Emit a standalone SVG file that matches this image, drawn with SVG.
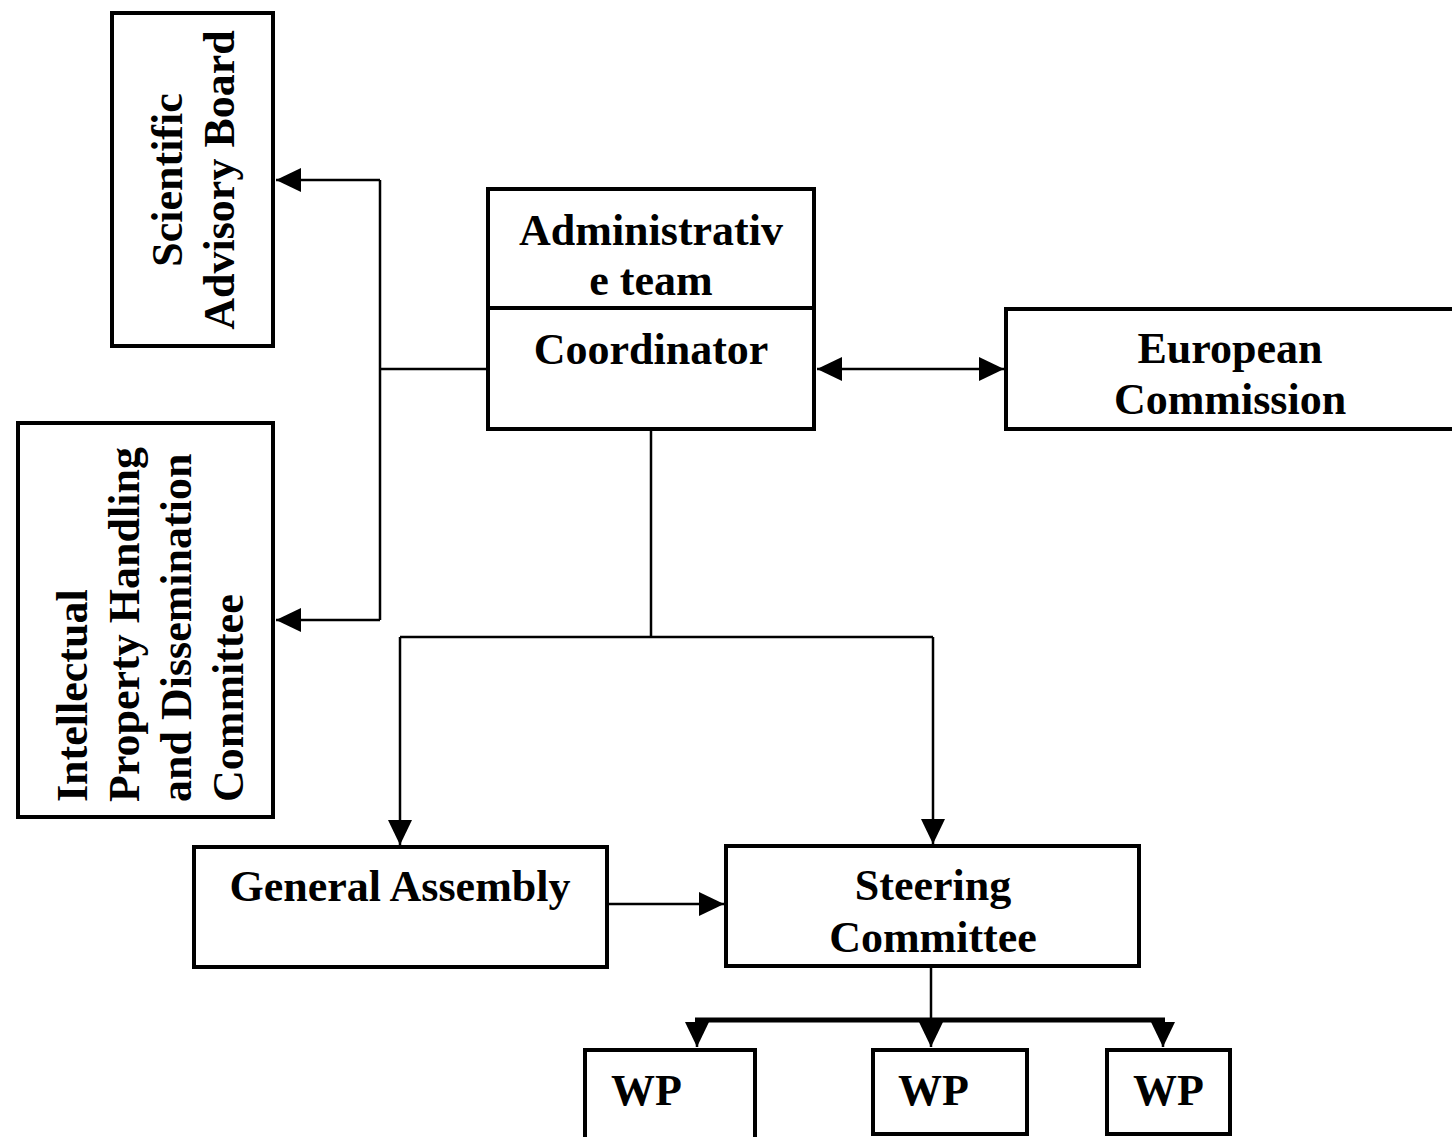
<svg xmlns="http://www.w3.org/2000/svg" width="1452" height="1137" viewBox="0 0 1452 1137">
<style>
.box{fill:#fff;stroke:#000;stroke-width:4}
.t{font-family:"Liberation Serif","Times New Roman",serif;font-weight:bold;font-size:44px;fill:#000}
.c{text-anchor:middle}
.ln{fill:none;stroke:#000;stroke-width:2.5}
.bus{fill:none;stroke:#000;stroke-width:5}
</style>
<defs>
<marker id="ah" markerUnits="userSpaceOnUse" markerWidth="26" markerHeight="26" refX="25" refY="12" orient="auto-start-reverse" viewBox="0 0 26 24">
<path d="M0,0 L25,12 L0,24 z" fill="#000"/>
</marker>
</defs>
<rect width="1452" height="1137" fill="#fff"/>
<g id="connectors">
<path class="ln" d="M486,369 H380"/>
<path class="ln" d="M380,180 V620"/>
<path class="ln" d="M380,180 H276" marker-end="url(#ah)"/>
<path class="ln" d="M380,620 H276" marker-end="url(#ah)"/>
<path class="ln" d="M817,369 H1004" marker-start="url(#ah)" marker-end="url(#ah)"/>
<path class="ln" d="M651,431 V637"/>
<path class="ln" d="M400,637 H933"/>
<path class="ln" d="M400,637 V845" marker-end="url(#ah)"/>
<path class="ln" d="M933,637 V844" marker-end="url(#ah)"/>
<path class="ln" d="M609,904 H724" marker-end="url(#ah)"/>
<path class="ln" d="M931,967 V1020"/>
<path class="bus" d="M695,1020 H1165"/>
<path class="ln" d="M697,1020 V1047" marker-end="url(#ah)"/>
<path class="ln" d="M931,1020 V1047" marker-end="url(#ah)"/>
<path class="ln" d="M1163,1020 V1047" marker-end="url(#ah)"/>
</g>
<g id="sab">
<rect class="box" x="112" y="13" width="161" height="333"/>
<text class="t c" transform="translate(182,180) rotate(-90)">Scientific</text>
<text class="t c" transform="translate(234,180) rotate(-90)">Advisory Board</text>
</g>
<g id="ipc">
<rect class="box" x="18" y="423" width="255" height="394"/>
<text class="t" transform="translate(87,802) rotate(-90)">Intellectual</text>
<text class="t" transform="translate(139,802) rotate(-90)">Property Handling</text>
<text class="t" transform="translate(191,802) rotate(-90)">and Dissemination</text>
<text class="t" transform="translate(243,802) rotate(-90)">Committee</text>
</g>
<g id="admin">
<rect class="box" x="488" y="189" width="326" height="240"/>
<line x1="488" y1="308" x2="814" y2="308" stroke="#000" stroke-width="4"/>
<text class="t c" x="651" y="245">Administrativ</text>
<text class="t c" x="651" y="295">e team</text>
<text class="t c" x="651" y="364">Coordinator</text>
</g>
<g id="ec">
<rect class="box" x="1006" y="309" width="470" height="120"/>
<text class="t c" x="1230" y="363">European</text>
<text class="t c" x="1230" y="414">Commission</text>
</g>
<g id="ga">
<rect class="box" x="194" y="847" width="413" height="120"/>
<text class="t c" x="400" y="901">General Assembly</text>
</g>
<g id="sc">
<rect class="box" x="726" y="846" width="413" height="120"/>
<text class="t c" x="933" y="900">Steering</text>
<text class="t c" x="933" y="952">Committee</text>
</g>
<g id="wp1">
<rect class="box" x="585" y="1050" width="170" height="100"/>
<text class="t" x="611" y="1105">WP</text>
</g>
<g id="wp2">
<rect class="box" x="873" y="1050" width="154" height="84"/>
<text class="t" x="898" y="1105">WP</text>
</g>
<g id="wp3">
<rect class="box" x="1107" y="1050" width="123" height="84"/>
<text class="t" x="1133" y="1105">WP</text>
</g>
</svg>
